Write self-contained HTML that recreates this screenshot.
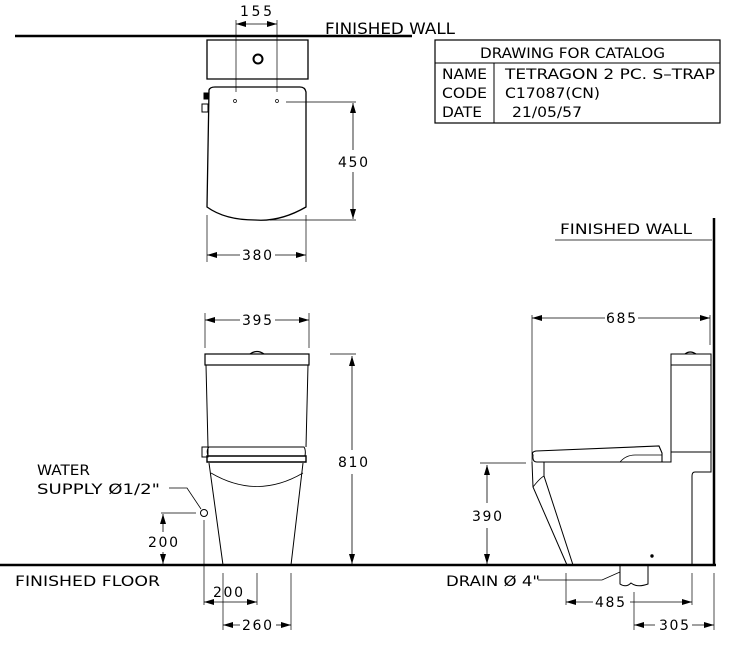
<!DOCTYPE html>
<html><head><style>html,body{margin:0;padding:0;background:#fff}svg{display:block}
text{font-family:"DejaVu Sans","Liberation Sans",sans-serif;fill:#000}</style></head><body>
<svg width="750" height="652" viewBox="0 0 750 652" xmlns="http://www.w3.org/2000/svg">
<defs><marker id="a" markerWidth="10" markerHeight="6" refX="10" refY="3" orient="auto-start-reverse" markerUnits="userSpaceOnUse"><path d="M0,0 L10,3 L0,6z" fill="#000"/></marker></defs>
<g stroke="#000" fill="none" stroke-width="1">
<line x1="15" y1="36" x2="412" y2="36" stroke-width="2.5"/>
<path d="M207,40 H308 V79 H207 Z" stroke-width="1.3"/>
<circle cx="258" cy="59" r="4.5" stroke-width="2"/>
<path d="M209,90 Q210,87 215,87 H300 Q305,87 306,92 L306,207 Q280,222 255,220 Q225,220 207,207 Z" stroke-width="1.3"/>
<rect x="204" y="93" width="4" height="6" fill="#000"/>
<path d="M202,104 H208 V112 H202 Z"/>
<circle cx="235" cy="101" r="1.5" stroke-width="0.7"/><circle cx="277" cy="101" r="1.5" stroke-width="0.7"/>
<line x1="236" y1="20" x2="236" y2="92" stroke-width="0.7"/><line x1="277" y1="20" x2="277" y2="92" stroke-width="0.7"/>
<line x1="236" y1="24" x2="277" y2="24" marker-start="url(#a)" marker-end="url(#a)" stroke-width="0.8"/>
<line x1="286" y1="102" x2="356" y2="102" stroke-width="0.7"/><line x1="270" y1="220" x2="356" y2="220" stroke-width="0.7"/>
<line x1="353" y1="103" x2="353" y2="150" marker-start="url(#a)" stroke-width="0.8"/><line x1="353" y1="172" x2="353" y2="219" marker-end="url(#a)" stroke-width="0.8"/>
<line x1="207" y1="215" x2="207" y2="262" stroke-width="0.7"/><line x1="306" y1="215" x2="306" y2="262" stroke-width="0.7"/>
<line x1="207" y1="255" x2="240" y2="255" marker-start="url(#a)" stroke-width="0.8"/><line x1="275" y1="255" x2="306" y2="255" marker-end="url(#a)" stroke-width="0.8"/>
<rect x="435" y="40" width="285" height="83" stroke-width="1.2" fill="#fff"/>
<line x1="435" y1="63" x2="720" y2="63"/>
<line x1="494" y1="63" x2="494" y2="123"/>
<line x1="0" y1="565" x2="716" y2="565" stroke-width="2.5"/>
<line x1="205" y1="313" x2="205" y2="348" stroke-width="0.7"/><line x1="309" y1="313" x2="309" y2="348" stroke-width="0.7"/>
<line x1="205" y1="320" x2="240" y2="320" marker-start="url(#a)" stroke-width="0.8"/><line x1="275" y1="320" x2="309" y2="320" marker-end="url(#a)" stroke-width="0.8"/>
<rect x="205" y="354" width="104" height="11" stroke-width="1.2"/>
<path d="M250,354 Q257,349 264,354" stroke-width="1.3"/>
<path d="M206,365 L208,447 M308,365 L306,447"/>
<path d="M209,447 H304 Q306,450 305,456 H208 Q206,450 209,447 Z"/>
<rect x="202" y="447" width="6" height="10"/>
<path d="M207,456 H306 V462 H207 Z" stroke-width="1.4"/>
<path d="M209,463 L223,565 M303,463 L291,565"/>
<path d="M211,473 Q257,500 303,473" stroke-width="0.8"/>
<line x1="330" y1="354" x2="356" y2="354" stroke-width="0.7"/>
<line x1="352" y1="356" x2="352" y2="450" marker-start="url(#a)" stroke-width="0.8"/><line x1="352" y1="474" x2="352" y2="564" marker-end="url(#a)" stroke-width="0.8"/>
<path d="M169,488 H187 L201,509" stroke-width="0.8"/>
<circle cx="204" cy="513" r="3.5"/>
<line x1="161" y1="513" x2="196" y2="513" stroke-width="0.7"/>
<line x1="163" y1="514" x2="163" y2="532" marker-start="url(#a)" stroke-width="0.8"/><line x1="163" y1="552" x2="163" y2="564" marker-end="url(#a)" stroke-width="0.8"/>
<line x1="204" y1="520" x2="204" y2="605" stroke-width="0.7"/>
<line x1="223" y1="573" x2="223" y2="630" stroke-width="0.7"/><line x1="257" y1="573" x2="257" y2="605" stroke-width="0.7"/><line x1="291" y1="573" x2="291" y2="630" stroke-width="0.7"/>
<line x1="204" y1="602" x2="257" y2="602" marker-start="url(#a)" marker-end="url(#a)" stroke-width="0.8"/>
<line x1="223" y1="625" x2="240" y2="625" marker-start="url(#a)" stroke-width="0.8"/><line x1="276" y1="625" x2="291" y2="625" marker-end="url(#a)" stroke-width="0.8"/>
<line x1="714" y1="218" x2="714" y2="566" stroke-width="2.5"/>
<line x1="555" y1="240" x2="712" y2="240" stroke-width="0.8"/>
<line x1="532" y1="315" x2="532" y2="462" stroke-width="0.7"/><line x1="710" y1="315" x2="710" y2="345" stroke-width="0.7"/>
<line x1="532" y1="318" x2="605" y2="318" marker-start="url(#a)" stroke-width="0.8"/><line x1="638" y1="318" x2="710" y2="318" marker-end="url(#a)" stroke-width="0.8"/>
<path d="M671,354 H711 V452 H671 Z"/><line x1="671" y1="365" x2="711" y2="365"/>
<path d="M685,354 Q690,350 696,354" stroke-width="1.3"/>
<path d="M533,455 Q531,452 536,451 L659,446 L662,453 V462 L537,462 Q532,462 533,455 Z" stroke-width="1.1"/>
<path d="M620,462 Q626,455 635,455 L662,455" stroke-width="0.8"/>
<path d="M662,462 H671 V452 M711,452 V472 H695 Q692,472 692,476 V565"/>
<path d="M532,462 L533,487 L567,565 M544,462 L544,476 L573,565" stroke-width="1"/>
<path d="M533,487 Q540,478 544,476" stroke-width="0.8"/>
<circle cx="652" cy="556" r="1.2" fill="#000"/>
<line x1="480" y1="463" x2="526" y2="463" stroke-width="0.7"/>
<line x1="487" y1="465" x2="487" y2="503" marker-start="url(#a)" stroke-width="0.8"/><line x1="487" y1="528" x2="487" y2="564" marker-end="url(#a)" stroke-width="0.8"/>
<path d="M620,566 V584 Q626,588 631,583 Q637,588 648,584 V566" stroke-width="1"/>
<path d="M538,580 H602 L620,572" stroke-width="0.8"/>
<line x1="566" y1="573" x2="566" y2="605" stroke-width="0.7"/><line x1="692" y1="573" x2="692" y2="605" stroke-width="0.7"/>
<line x1="566" y1="602" x2="593" y2="602" marker-start="url(#a)" stroke-width="0.8"/><line x1="630" y1="602" x2="692" y2="602" marker-end="url(#a)" stroke-width="0.8"/>
<line x1="634" y1="592" x2="634" y2="630" stroke-width="0.7"/><line x1="714" y1="573" x2="714" y2="630" stroke-width="0.7"/>
<line x1="634" y1="625" x2="655" y2="625" marker-start="url(#a)" stroke-width="0.8"/><line x1="692" y1="625" x2="714" y2="625" marker-end="url(#a)" stroke-width="0.8"/>
</g>
<g font-size="14">
<text x="240" y="16" textLength="32">155</text>
<text x="325" y="34" font-size="16" textLength="130" lengthAdjust="spacingAndGlyphs">FINISHED  WALL</text>
<text x="338" y="167" textLength="30">450</text>
<text x="242" y="260" textLength="30">380</text>
<text x="480" y="58" textLength="185" lengthAdjust="spacingAndGlyphs">DRAWING  FOR  CATALOG</text>
<text x="442" y="79" textLength="45" lengthAdjust="spacingAndGlyphs">NAME</text><text x="442" y="98" textLength="45" lengthAdjust="spacingAndGlyphs">CODE</text><text x="442" y="117" textLength="40" lengthAdjust="spacingAndGlyphs">DATE</text>
<text x="505" y="79" textLength="210" lengthAdjust="spacingAndGlyphs">TETRAGON  2  PC.  S–TRAP</text>
<text x="505" y="98" textLength="95" lengthAdjust="spacingAndGlyphs">C17087(CN)</text>
<text x="512" y="117" textLength="70" lengthAdjust="spacingAndGlyphs">21/05/57</text>
<text x="560" y="234" textLength="132" lengthAdjust="spacingAndGlyphs">FINISHED  WALL</text>
<text x="242" y="325" textLength="30">395</text>
<text x="606" y="323" textLength="30">685</text>
<text x="338" y="467" textLength="30">810</text>
<text x="37" y="475" textLength="53" lengthAdjust="spacingAndGlyphs">WATER</text>
<text x="37" y="494" textLength="123" lengthAdjust="spacingAndGlyphs">SUPPLY  Ø1/2"</text>
<text x="148" y="547" textLength="30">200</text>
<text x="472" y="521" textLength="30">390</text>
<text x="15" y="586" textLength="145" lengthAdjust="spacingAndGlyphs">FINISHED  FLOOR</text>
<text x="213" y="597" textLength="30">200</text>
<text x="242" y="630" textLength="30">260</text>
<text x="446" y="586" textLength="94" lengthAdjust="spacingAndGlyphs">DRAIN  Ø  4"</text>
<text x="595" y="607" textLength="30">485</text>
<text x="659" y="630" textLength="30">305</text>
</g>
</svg>
</body></html>
